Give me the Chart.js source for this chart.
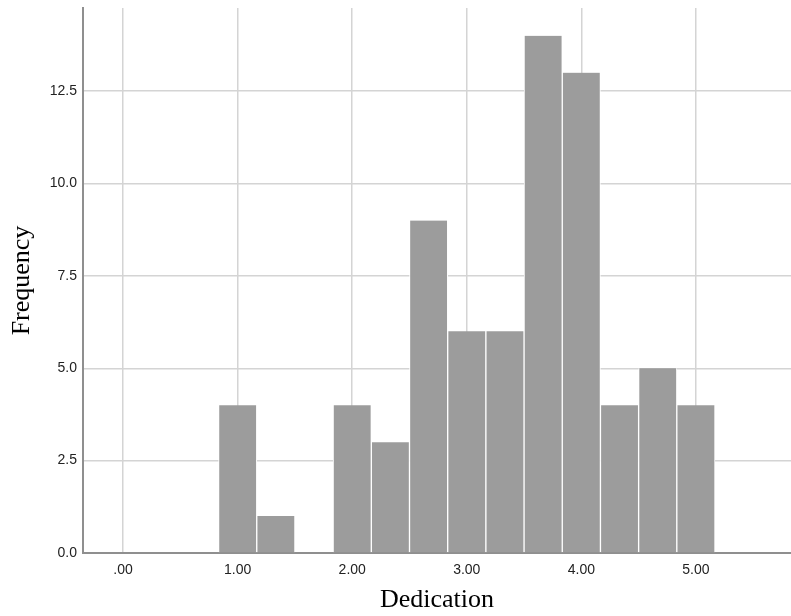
<!DOCTYPE html>
<html>
<head>
<meta charset="utf-8">
<script src="https://cdn.jsdelivr.net/npm/chart.js@4"></script>
<style>
    body { margin: 0; background: #fff; }
    .chart-box { width: 791px; height: 616px; position: relative; }
</style>
</head>
<body>
<div class="chart-box"><canvas id="histChart"></canvas></div>
<script>
// histogram bins (centre of each 1/3-wide bin) and their counts
const binCenters = [1.0, 1.3333, 1.6667, 2.0, 2.3333, 2.6667, 3.0, 3.3333, 3.6667, 4.0, 4.3333, 4.6667, 5.0];
const frequencies = [4, 1, 0, 4, 3, 9, 6, 6, 14, 13, 4, 5, 4];
const xTicks = [0, 1, 2, 3, 4, 5];
const yTicks = [0, 2.5, 5, 7.5, 10, 12.5];

function createHistogram() {
    const points = binCenters.map((x, i) => ({ x: x, y: frequencies[i] }));
    const ctx = document.getElementById('histChart').getContext('2d');

    const tickFont = { family: 'Liberation Sans, Arial, sans-serif', size: 14 };
    const titleFont = { family: 'Liberation Serif, Times New Roman, serif', size: 26 };

    new Chart(ctx, {
        type: 'bar',
        data: {
            datasets: [{
                label: 'Frequency',
                data: points,
                backgroundColor: '#9c9c9c',
                borderColor: '#ffffff',
                borderWidth: { left: 1, right: 1, top: 0, bottom: 0 },
                borderSkipped: false,
                barPercentage: 1,
                categoryPercentage: 1
            }]
        },
        options: {
            responsive: true,
            maintainAspectRatio: false,
            animation: false,
            layout: { padding: { top: 8, right: 0, left: 0, bottom: 0 } },
            plugins: {
                legend: { display: false },
                tooltip: { enabled: false }
            },
            scales: {
                x: {
                    type: 'linear',
                    min: -0.35,
                    max: 5.83,
                    offset: false,
                    afterBuildTicks: function(scale) {
                        scale.ticks = xTicks.map(v => ({ value: v }));
                    },
                    afterFit: function(scale) {
                        scale.height = 63;
                        scale.paddingLeft = 0;
                        scale.paddingRight = 0;
                    },
                    grid: { color: '#d4d4d4', lineWidth: 1.5, drawTicks: false, offset: false },
                    border: { color: '#8f8f8f', width: 2 },
                    ticks: {
                        padding: 9,
                        color: '#222',
                        font: tickFont,
                        maxRotation: 0,
                        callback: function(v) { return v === 0 ? '.00' : v.toFixed(2); }
                    },
                    title: {
                        display: true,
                        text: 'Dedication',
                        color: '#000',
                        font: titleFont,
                        padding: { top: 0, bottom: 0 }
                    }
                },
                y: {
                    min: 0,
                    max: 14.75,
                    afterBuildTicks: function(scale) {
                        scale.ticks = yTicks.map(v => ({ value: v }));
                    },
                    afterFit: function(scale) {
                        scale.width = 83;
                        scale.paddingTop = 0;
                        scale.paddingBottom = 0;
                    },
                    grid: { color: '#d4d4d4', lineWidth: 1.5, drawTicks: false },
                    border: { color: '#8f8f8f', width: 2 },
                    ticks: {
                        padding: 6,
                        color: '#222',
                        font: tickFont,
                        callback: function(v) { return v.toFixed(1); }
                    },
                    title: {
                        display: true,
                        text: 'Frequency',
                        color: '#000',
                        font: titleFont,
                        padding: { top: 7, bottom: 7 }
                    }
                }
            }
        }
    });
}

window.onload = function() {
    createHistogram();
};
</script>
</body>
</html>
